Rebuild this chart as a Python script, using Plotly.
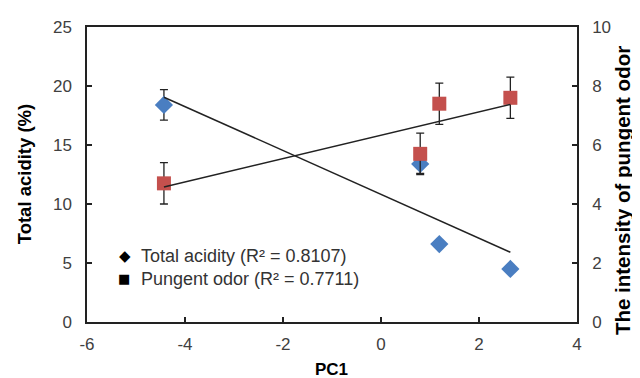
import numpy as np
import plotly.graph_objects as go

pc1 = [-4.43, 0.80, 1.19, 2.64]
total_acidity = [18.4, 13.4, 6.6, 4.5]
total_acidity_err = [1.3, 0.8, 0.0, 0.0]
pungent_odor = [4.7, 5.7, 7.4, 7.6]
pungent_odor_err = [0.7, 0.7, 0.7, 0.7]

x_ticks = [-6, -4, -2, 0, 2, 4]
x_tick_labels = ["-6", "-4", "-2", "0", "2", "4"]
y1_ticks = [0, 5, 10, 15, 20, 25]
y2_ticks = [0, 2, 4, 6, 8, 10]

legend_labels = ["Total acidity (R² = 0.8107)", "Pungent odor (R² = 0.7711)"]

BLUE = "#4A7EC1"
RED = "#C4504D"
FONT = "Liberation Sans, Arial, sans-serif"

xs = np.array(pc1)
fit1 = np.polyfit(xs, np.array(total_acidity), 1)
fit2 = np.polyfit(xs, np.array(pungent_odor), 1)
xfit = np.array([xs.min(), xs.max()])

fig = go.Figure()

fig.add_trace(go.Scatter(
    x=pc1, y=total_acidity, mode="markers",
    marker=dict(symbol="diamond", size=14, color=BLUE),
    error_y=dict(type="data", array=total_acidity_err, color="#222", thickness=1.3, width=4),
    showlegend=False, yaxis="y"))

fig.add_trace(go.Scatter(
    x=pc1, y=pungent_odor, mode="markers",
    marker=dict(symbol="square", size=14, color=RED),
    error_y=dict(type="data", array=pungent_odor_err, color="#222", thickness=1.3, width=4),
    showlegend=False, yaxis="y2"))

fig.add_trace(go.Scatter(
    x=xfit, y=np.polyval(fit1, xfit), mode="lines",
    line=dict(color="#222", width=1.5), showlegend=False, yaxis="y"))

fig.add_trace(go.Scatter(
    x=xfit, y=np.polyval(fit2, xfit), mode="lines",
    line=dict(color="#222", width=1.5), showlegend=False, yaxis="y2"))

axis_common = dict(
    showgrid=False, zeroline=False, showline=True, linecolor="#222", linewidth=1.5,
    ticks="inside", ticklen=5, tickwidth=1.5, tickcolor="#222", automargin=False,
    tickfont=dict(family=FONT, size=17, color="#404040"),
)

# page body has an 8px margin, so the figure is sized/offset to compensate
fig.update_layout(
    width=632, height=370,
    margin=dict(l=79, r=63, t=19, b=56, autoexpand=False),
    paper_bgcolor="white", plot_bgcolor="white",
    font=dict(family=FONT),
    xaxis=dict(range=[-6, 4], tickvals=x_ticks, ticktext=x_tick_labels, mirror=True,
               ticklabelstandoff=6, **axis_common),
    yaxis=dict(range=[0, 25], tickvals=y1_ticks, ticklabelstandoff=10, **axis_common),
    yaxis2=dict(range=[0, 10], tickvals=y2_ticks, overlaying="y", side="right",
                ticklabelstandoff=10, **axis_common),
    showlegend=False,
)

annotations = [
    dict(text="<b>Total acidity (%)</b>", x=-0.127, y=0.5, xref="paper", yref="paper",
         textangle=-90, showarrow=False, font=dict(family=FONT, size=18.5, color="black"),
         xanchor="center", yanchor="middle"),
    dict(text="<b>The intensity of pungent odor</b>", x=1.092, y=0.444, xref="paper", yref="paper",
         textangle=-90, showarrow=False, font=dict(family=FONT, size=20.5, color="black"),
         xanchor="center", yanchor="middle"),
    dict(text="<b>PC1</b>", x=0.498, y=-0.16, xref="paper", yref="paper",
         showarrow=False, font=dict(family=FONT, size=17, color="black"),
         xanchor="center", yanchor="middle"),
    dict(text="◆", x=0.078, y=0.224, xref="paper", yref="paper", showarrow=False,
         font=dict(family="DejaVu Sans", size=15, color="black"), xanchor="center", yanchor="middle"),
    dict(text="■", x=0.076, y=0.146, xref="paper", yref="paper", showarrow=False,
         font=dict(family="DejaVu Sans", size=13, color="black"), xanchor="center", yanchor="middle"),
    dict(text=legend_labels[0], x=0.106, y=0.224, xref="paper", yref="paper", showarrow=False,
         font=dict(family=FONT, size=18, color="#333"), xanchor="left", yanchor="middle"),
    dict(text=legend_labels[1], x=0.106, y=0.146, xref="paper", yref="paper", showarrow=False,
         font=dict(family=FONT, size=18, color="#333"), xanchor="left", yanchor="middle"),
]
fig.update_layout(annotations=annotations)

fig.write_html("out.html")
